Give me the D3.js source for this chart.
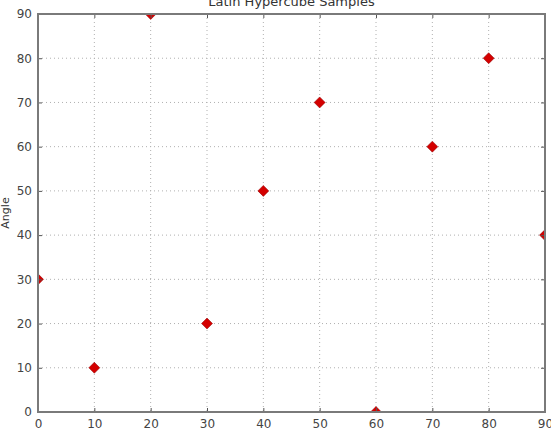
<!DOCTYPE html>
<html><head><meta charset="utf-8">
<script src="https://cdn.jsdelivr.net/npm/d3@7"></script>
<style>body{margin:0;background:#fff}svg{display:block}text{font-family:"DejaVu Sans",sans-serif}</style>
</head><body>
<svg id="c" width="551" height="430"></svg>
<script>
const xValues = [0, 10, 20, 30, 40, 50, 60, 70, 80, 90];
const angles = [30, 10, 90, 20, 50, 70, 0, 60, 80, 40];
const xTicks = [0, 10, 20, 30, 40, 50, 60, 70, 80, 90];
const yTicks = [0, 10, 20, 30, 40, 50, 60, 70, 80, 90];
const title = "Latin Hypercube Samples";
const yLabel = "Angle";

const svg = d3.select("#c");
const L = 38, R = 545, T = 14, B = 412;
const x = d3.scaleLinear().domain([0, 90]).range([L, R]);
const y = d3.scaleLinear().domain([0, 90]).range([B, T]);

svg.append("defs").append("clipPath").attr("id", "clip")
  .append("rect").attr("x", L).attr("y", T).attr("width", R - L).attr("height", B - T);

// grid
const g = svg.append("g");
g.selectAll(".gx").data(xTicks).enter().append("line")
  .attr("x1", d => x(d)).attr("x2", d => x(d)).attr("y1", T).attr("y2", B)
  .attr("stroke", "#b0b0b0").attr("stroke-width", 1).attr("stroke-dasharray", "1,3");
g.selectAll(".gy").data(yTicks).enter().append("line")
  .attr("y1", d => y(d)).attr("y2", d => y(d)).attr("x1", L).attr("x2", R)
  .attr("stroke", "#b0b0b0").attr("stroke-width", 1).attr("stroke-dasharray", "1,3");

// markers (clipped to axes)
const diamond = "M0,-5.5L5.5,0L0,5.5L-5.5,0Z";
svg.append("g").attr("clip-path", "url(#clip)").selectAll("path").data(xValues).enter().append("path")
  .attr("d", diamond)
  .attr("transform", (d, i) => `translate(${x(d)},${y(angles[i])})`)
  .attr("fill", "#d40000").attr("stroke", "#8a0000").attr("stroke-width", 0.5);

// axes (ticks inward)
const xAxis = svg.append("g").attr("transform", `translate(0,${B})`)
  .call(d3.axisBottom(x).tickValues(xTicks).tickFormat(d3.format("d")).tickSizeInner(-4).tickSizeOuter(0).tickPadding(7));
const yAxis = svg.append("g").attr("transform", `translate(${L},0)`)
  .call(d3.axisLeft(y).tickValues(yTicks).tickFormat(d3.format("d")).tickSizeInner(-4).tickSizeOuter(0).tickPadding(6));
const xAxisTop = svg.append("g").attr("transform", `translate(0,${T})`)
  .call(d3.axisTop(x).tickValues(xTicks).tickFormat("").tickSizeInner(-4).tickSizeOuter(0));
const yAxisRight = svg.append("g").attr("transform", `translate(${R},0)`)
  .call(d3.axisRight(y).tickValues(yTicks).tickFormat("").tickSizeInner(-4).tickSizeOuter(0));
[xAxis, yAxis, xAxisTop, yAxisRight].forEach(a => {
  a.select(".domain").remove();
  a.selectAll("line").attr("stroke", "#555");
  a.selectAll("text").attr("font-size", 12).attr("fill", "#444").attr("font-family", "DejaVu Sans, sans-serif");
});

// frame
svg.append("rect").attr("x", L).attr("y", T).attr("width", R - L).attr("height", B - T)
  .attr("fill", "none").attr("stroke", "#7a7a7a").attr("stroke-width", 2);

// title
svg.append("text").attr("x", (L + R) / 2).attr("y", 6).attr("text-anchor", "middle")
  .attr("font-size", 13).attr("fill", "#333").text(title);
// y label
svg.append("text").attr("transform", `translate(9,${(T + B) / 2}) rotate(-90)`)
  .attr("text-anchor", "middle").attr("font-size", 11).attr("fill", "#333").text(yLabel);
</script>
</body></html>
